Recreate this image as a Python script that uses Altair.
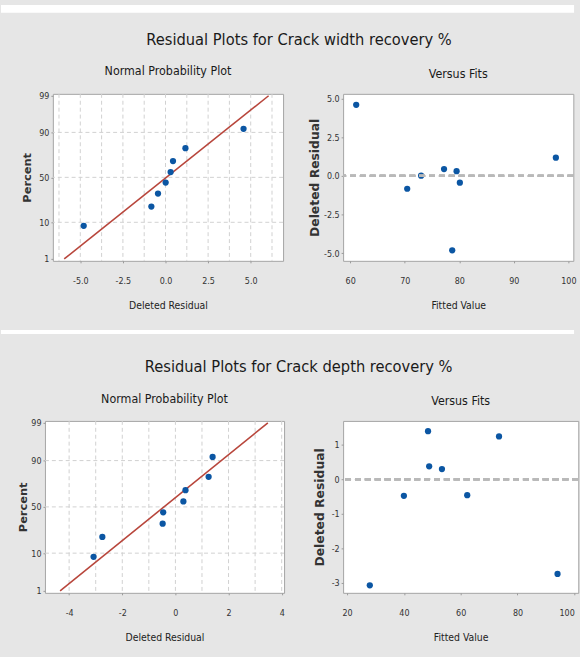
import altair as alt
import pandas as pd
from statistics import NormalDist

# ---------------- data ----------------
width_fits = [61.1, 70.45, 73.0, 77.2, 78.7, 79.5, 80.1, 97.7]
width_resid = [4.58, -0.83, 0.01, 0.44, -4.80, 0.30, -0.44, 1.17]

depth_fits = [28.0, 40.0, 48.5, 48.9, 53.4, 62.3, 73.5, 94.1]
depth_resid = [-3.08, -0.48, 1.40, 0.38, 0.30, -0.46, 1.25, -2.75]

pct_ticks = [1, 10, 50, 90, 99]
pct_grid = [10, 50, 90]

width_res_ticks = [-5.0, -2.5, 0.0, 2.5, 5.0]
width_res_grid = [-6.25, -5.0, -3.75, -2.5, -1.25, 0.0, 1.25, 2.5, 3.75, 5.0, 6.25]
width_fit_ticks = [60, 70, 80, 90, 100]
width_vres_ticks = [-5.0, -2.5, 0.0, 2.5, 5.0]

depth_res_ticks = [-4, -2, 0, 2, 4]
depth_res_grid = [-4, -3, -2, -1, 0, 1, 2, 3, 4]
depth_fit_ticks = [20, 40, 60, 80, 100]
depth_vres_ticks = [-3, -2, -1, 0, 1]

title_width = "Residual Plots for Crack width recovery %"
title_depth = "Residual Plots for Crack depth recovery %"

# ---------------- style ----------------
FONT = "DejaVu Sans Condensed, Liberation Sans, sans-serif"
YFONT = "DejaVu Sans"
BG = "#e6e6e6"
BLUE = "#0b56a3"
RED = "#b8463c"
GRID = "#d0d0d0"
FRAME = "#a4a4a4"
CLEAR = alt.ViewBackground(fill="transparent", stroke="transparent")

nd = NormalDist()


def zval(p):
    return nd.inv_cdf(p / 100.0)


def hyphen_expr(decimals):
    return ("(datum.value < 0 ? '-' : '') + format(abs(datum.value), '.%df')" % decimals)


def sub_title(text):
    return alt.TitleParams(text, frame="group", anchor="middle", font=FONT,
                           fontSize=12.5, fontWeight="normal", color="#1a1a1a", offset=14)


def xaxis(values, decimals, title, flush=False):
    kw = dict(values=values, labelExpr=hyphen_expr(decimals), title=title, grid=False,
              domain=False, ticks=True, tickSize=2, tickColor="#999999", labelPadding=13.5,
              labelFont=FONT, labelFontSize=9, labelColor="#333333",
              titleFont=FONT, titleFontSize=10.5, titleFontWeight="normal",
              titleColor="#222222", titlePadding=15.5)
    if flush:
        kw["labelAlign"] = alt.ConditionalAxisLabelAlign(
            condition={"test": "datum.value >= 100", "value": "right"}, value="center")
    return alt.Axis(**kw)


def yaxis(values, title, tp, size, label_expr):
    return alt.Axis(values=values, title=title, grid=False, domain=False, ticks=True,
                    tickSize=2, tickColor="#999999", labelPadding=2, labelExpr=label_expr,
                    labelFont=FONT, labelFontSize=9, labelColor="#333333",
                    titleFont=YFONT, titleFontSize=size, titleFontWeight="bold",
                    titleColor="#333333", titlePadding=tp)


def normal_plot(resid, xdom, xticks, xgrid, decimals, w, h, tp):
    df = pd.DataFrame({"resid": resid})
    xs = alt.Scale(domain=xdom, nice=False, zero=False)
    ys = alt.Scale(domain=[-2.38, 2.38], nice=False, zero=False)
    ax = xaxis(xticks, decimals, "Deleted Residual")
    ay = yaxis([zval(p) for p in pct_ticks], "Percent", tp, 11.5,
               "format(cumulativeNormal(datum.value) * 100, '.0f')")

    gx = alt.Chart(pd.DataFrame({"x": xgrid})).mark_rule(
        color=GRID, strokeDash=[4, 3], strokeWidth=1
    ).encode(x=alt.X("x:Q", scale=xs, axis=ax))

    gy = alt.Chart(pd.DataFrame({"p": pct_grid})).transform_calculate(
        zz="quantileNormal(datum.p / 100)"
    ).mark_rule(color=GRID, strokeDash=[4, 3], strokeWidth=1).encode(
        y=alt.Y("zz:Q", scale=ys, axis=ay)
    )

    line = alt.Chart(df).transform_aggregate(
        m="mean(resid)", s="stdev(resid)"
    ).transform_calculate(pp="[0.01, 0.99]").transform_flatten(["pp"]).transform_calculate(
        x="datum.m + datum.s * quantileNormal(datum.pp)",
        zz="quantileNormal(datum.pp)",
    ).mark_line(color=RED, strokeWidth=1.6).encode(x="x:Q", y="zz:Q")

    pts = alt.Chart(df).transform_window(
        rank="row_number()", sort=[alt.SortField("resid", order="ascending")]
    ).transform_joinaggregate(n="count()").transform_calculate(
        x="datum.resid",
        zz="quantileNormal((datum.rank - 0.3) / (datum.n + 0.4))",
    ).mark_circle(size=40, color=BLUE, opacity=1).encode(x="x:Q", y="zz:Q")

    return alt.layer(gx, gy, line, pts).properties(
        width=w, height=h, title=sub_title("Normal Probability Plot")
    )


def fits_plot(fits, resid, xdom, xticks, ydom, yticks, ydec, w, h, tp, flush=False):
    df = pd.DataFrame({"fit": fits, "resid": resid})
    xs = alt.Scale(domain=xdom, nice=False, zero=False)
    ys = alt.Scale(domain=ydom, nice=False, zero=False)
    ax = xaxis(xticks, 0, "Fitted Value", flush=flush)
    ay = yaxis(yticks, "Deleted  Residual", tp, 12.5, hyphen_expr(ydec))

    zero = alt.Chart(df).mark_rule(
        color="#b9b9b9", strokeDash=[6, 4], strokeWidth=2.2
    ).encode(y=alt.datum(0))

    pts = alt.Chart(df).mark_circle(size=40, color=BLUE, opacity=1).encode(
        x=alt.X("fit:Q", scale=xs, axis=ax),
        y=alt.Y("resid:Q", scale=ys, axis=ay),
    )
    return alt.layer(pts, zero).properties(width=w, height=h, title=sub_title("Versus Fits"))


def block_title(text):
    return alt.TitleParams(text, anchor="middle", font=FONT, fontSize=16.5,
                           fontWeight="normal", color="#1a1a1a", offset=17)


def spacer():
    # invisible 1px cell that fixes the left origin of each block
    return alt.Chart(pd.DataFrame({"a": [0]})).mark_point(size=0, opacity=0).encode(
        x=alt.value(0), y=alt.value(0)
    ).properties(width=1, height=1, view=CLEAR)


def band(h, y0, y1):
    # white separator strip of the panel background (decoration, not data)
    return alt.Chart(pd.DataFrame({"a": [0]})).mark_rect(color="white").encode(
        x=alt.value(0), x2=alt.value(580), y=alt.value(y0), y2=alt.value(y1)
    ).properties(width=580, height=h, view=CLEAR)


tl = normal_plot(width_resid, [-6.61, 6.90], width_res_ticks, width_res_grid, 1,
                 233, 169, 6)
tr = fits_plot(width_fits, width_resid, [58.7, 100.9], width_fit_ticks,
               [-5.48, 5.29], width_vres_ticks, 1, 233, 169, 2)

bl = normal_plot(depth_resid, [-4.91, 4.09], depth_res_ticks, depth_res_grid, 0,
                 242, 174, 2)
br = fits_plot(depth_fits, depth_resid, [18.6, 101.4], depth_fit_ticks,
               [-3.3, 1.7], depth_vres_ticks, 0, 238, 174, 4.65, flush=True)

top_inner = alt.hconcat(tl, tr, spacing=23.75).properties(title=block_title(title_width))
bottom_inner = alt.hconcat(bl, br, spacing=27.75).properties(title=block_title(title_depth))

top = alt.hconcat(spacer(), top_inner, spacing=18.5)
bottom = alt.hconcat(spacer(), bottom_inner, spacing=14.5)

chart = alt.concat(band(26, 0, 8), top, band(46, 18, 22), bottom,
                   columns=1, spacing=0).properties(
    background=BG,
    padding={"left": 0, "top": 0, "right": 0, "bottom": 15},
).configure_view(
    fill="white", stroke=FRAME, strokeWidth=1
).configure_title(font=FONT)

chart.save("out.html", embed_options={"renderer": "svg", "actions": False})
